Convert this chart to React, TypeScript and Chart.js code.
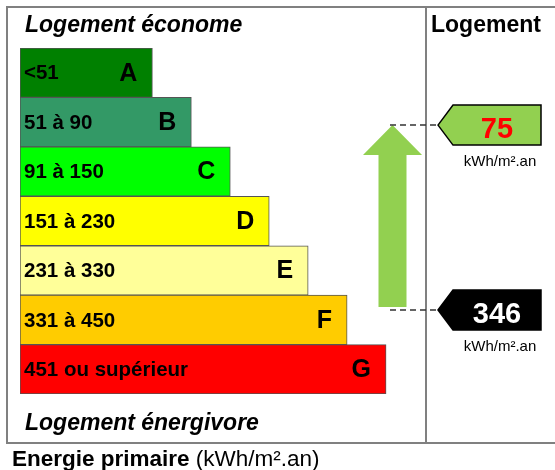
import { useEffect, useRef } from 'react';
import { Chart, registerables } from 'chart.js';

Chart.register(...registerables);

const classes = ['A', 'B', 'C', 'D', 'E', 'F', 'G'];
const ranges = ['<51', '51 à 90', '91 à 150', '151 à 230', '231 à 330', '331 à 450', '451 ou supérieur'];
const barLengths = [34, 44, 54, 64, 74, 84, 94];
const barColors = ['#008000', '#339966', '#00ff00', '#ffff00', '#ffff99', '#ffcc00', '#ff0000'];
const markerValues = ['75', '346'];
const markerPositions = [1.06, 4.8];
const markerFills = ['#92d050', '#000000'];
const markerTextColors = ['#ff0000', '#ffffff'];
const unitLabel = 'kWh/m².an';
const topTitle = 'Logement économe';
const bottomTitle = 'Logement énergivore';
const columnTitle = 'Logement';
const axisTitle = 'Energie primaire';
const axisUnit = '(kWh/m².an)';

const FONT = "'Liberation Sans', Arial, sans-serif";

const labelPlugin = {
  id: 'dpeDecor',
  beforeDraw(chart: any) {
    const ctx = chart.ctx as CanvasRenderingContext2D;
    ctx.save();
    ctx.fillStyle = '#ffffff';
    ctx.fillRect(0, 0, chart.width, chart.height);
    ctx.strokeStyle = '#808080';
    ctx.lineWidth = 2;
    ctx.beginPath();
    ctx.moveTo(6, 7);
    ctx.lineTo(555, 7);
    ctx.moveTo(7, 6);
    ctx.lineTo(7, 444);
    ctx.moveTo(6, 443);
    ctx.lineTo(555, 443);
    ctx.moveTo(426, 6);
    ctx.lineTo(426, 444);
    ctx.stroke();

    ctx.fillStyle = '#000000';
    ctx.textBaseline = 'alphabetic';
    ctx.textAlign = 'left';
    ctx.font = `italic bold 23px ${FONT}`;
    ctx.fillText(topTitle, 25, 32);
    ctx.fillText(bottomTitle, 25, 430);
    ctx.font = `bold 23px ${FONT}`;
    ctx.fillText(columnTitle, 431, 32);
    ctx.font = `bold 22.5px ${FONT}`;
    ctx.fillText(axisTitle, 12, 466);
    const w = ctx.measureText(axisTitle + ' ').width;
    ctx.font = `22.5px ${FONT}`;
    ctx.fillText(axisUnit, 12 + w, 466);
    ctx.restore();
  },
  afterDatasetsDraw(chart: any) {
    const ctx = chart.ctx as CanvasRenderingContext2D;
    const meta = chart.getDatasetMeta(0);
    ctx.save();
    ctx.fillStyle = '#000000';
    ctx.textBaseline = 'middle';
    meta.data.forEach((bar: any, i: number) => {
      ctx.textAlign = 'left';
      ctx.font = `bold 20.5px ${FONT}`;
      ctx.fillText(ranges[i], bar.base + 4, bar.y + 1);
      ctx.textAlign = 'right';
      ctx.font = `bold 25px ${FONT}`;
      ctx.fillText(classes[i], bar.x - 15, bar.y + 1);
    });

    const yScale = chart.scales.y;
    const ys = markerPositions.map((p) => yScale.getPixelForValue(p));
    const yTop = Math.min(...ys);
    const yBot = Math.max(...ys);

    // arrow
    const cx = 392.5;
    ctx.fillStyle = '#92d050';
    ctx.beginPath();
    ctx.moveTo(cx, yTop);
    ctx.lineTo(cx + 29.5, yTop + 30);
    ctx.lineTo(cx + 14, yTop + 30);
    ctx.lineTo(cx + 14, yBot - 3);
    ctx.lineTo(cx - 14, yBot - 3);
    ctx.lineTo(cx - 14, yTop + 30);
    ctx.lineTo(cx - 29.5, yTop + 30);
    ctx.closePath();
    ctx.fill();

    // dashed lines
    ctx.strokeStyle = '#333333';
    ctx.lineWidth = 1.5;
    ctx.setLineDash([6, 4]);
    ys.forEach((y) => {
      ctx.beginPath();
      ctx.moveTo(390, y);
      ctx.lineTo(437, y);
      ctx.stroke();
    });
    ctx.setLineDash([]);

    // markers
    ys.forEach((y, i) => {
      ctx.beginPath();
      ctx.moveTo(438, y);
      ctx.lineTo(453, y - 20);
      ctx.lineTo(541, y - 20);
      ctx.lineTo(541, y + 20);
      ctx.lineTo(453, y + 20);
      ctx.closePath();
      ctx.fillStyle = markerFills[i];
      ctx.fill();
      ctx.strokeStyle = '#000000';
      ctx.lineWidth = 1.5;
      ctx.stroke();

      ctx.textAlign = 'center';
      ctx.textBaseline = 'alphabetic';
      ctx.fillStyle = markerTextColors[i];
      ctx.font = `bold 29px ${FONT}`;
      ctx.fillText(markerValues[i], 497, y + 13);
      ctx.fillStyle = '#000000';
      ctx.font = `15px ${FONT}`;
      ctx.fillText(unitLabel, 500, y + 41);
    });
    ctx.restore();
  },
};

export default function App() {
  const ref = useRef<HTMLCanvasElement | null>(null);
  useEffect(() => {
    if (!ref.current) return;
    const chart = new Chart(ref.current, {
      type: 'bar',
      data: {
        labels: classes,
        datasets: [
          {
            data: barLengths,
            backgroundColor: barColors,
            borderColor: '#555555',
            borderWidth: 1,
            borderSkipped: false,
            barPercentage: 1,
            categoryPercentage: 1,
          },
        ],
      },
      options: {
        indexAxis: 'y',
        responsive: false,
        maintainAspectRatio: false,
        animation: false,
        events: [],
        layout: { padding: { left: 20, right: 130, top: 48, bottom: 76 } },
        plugins: {
          legend: { display: false },
          tooltip: { enabled: false },
          title: { display: false },
        },
        scales: {
          x: { type: 'linear', min: 0, max: 104, display: false },
          y: { type: 'category', display: false, offset: true },
        },
      },
      plugins: [labelPlugin],
    });
    return () => chart.destroy();
  }, []);
  return (
    <div style={{ position: 'fixed', left: 0, top: 0, width: 555, height: 470, background: '#fff' }}>
      <canvas ref={ref} width={555} height={470} style={{ width: 555, height: 470, display: 'block' }} />
    </div>
  );
}
